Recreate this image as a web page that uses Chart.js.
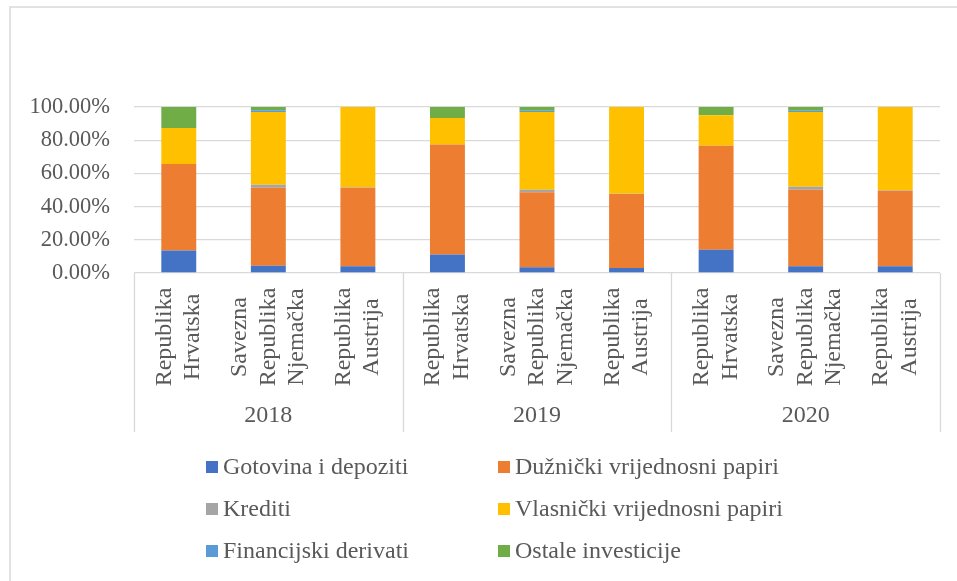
<!DOCTYPE html>
<html>
<head>
<meta charset="utf-8">
<script src="https://cdn.jsdelivr.net/npm/chart.js@4"></script>
<style>
  html, body { margin: 0; padding: 0; background: #fff; }
  #wrap { width: 957px; height: 581px; position: relative; }
</style>
</head>
<body>
<div id="wrap"><canvas id="chart" width="957" height="581"></canvas></div>
<script>
const categories = [
  ["Republika", "Hrvatska"], ["Savezna", "Republika", "Njemačka"], ["Republika", "Austrija"],
  ["Republika", "Hrvatska"], ["Savezna", "Republika", "Njemačka"], ["Republika", "Austrija"],
  ["Republika", "Hrvatska"], ["Savezna", "Republika", "Njemačka"], ["Republika", "Austrija"]
];
const years = ["2018", "2019", "2020"];

const gotovina = [13.6, 4.4, 4.0, 11.2, 3.4, 3.0, 14.0, 4.0, 4.0];
const duznicki = [52.0, 47.0, 47.4, 66.2, 45.2, 44.6, 62.6, 46.2, 45.6];
const krediti = [0.0, 1.8, 0.3, 0.0, 1.6, 0.2, 0.0, 1.8, 0.2];
const vlasnicki = [21.8, 43.8, 48.3, 16.0, 46.8, 52.2, 18.4, 45.0, 50.2];
const derivati = [0.0, 1.0, 0.0, 0.0, 0.8, 0.0, 0.0, 0.8, 0.0];
const ostale = [12.6, 2.0, 0.0, 6.6, 2.2, 0.0, 5.0, 2.2, 0.0];

const FONT = "'Liberation Serif', 'Times New Roman', serif";
const TEXT = "#595959";
const LINE = "#d9d9d9";

function ds(label, data, color) {
  return { label, data, backgroundColor: color, borderWidth: 0, barPercentage: 0.39, categoryPercentage: 1 };
}

const decor = {
  id: "decor",
  afterDraw(chart) {
    const ctx = chart.ctx;
    const x = chart.scales.x;
    const area = chart.chartArea;
    ctx.save();

    // outer frame (top + left visible)
    ctx.strokeStyle = LINE;
    ctx.lineWidth = 1.5;
    ctx.beginPath();
    ctx.moveTo(10, 581);
    ctx.lineTo(10, 7);
    ctx.lineTo(957, 7);
    ctx.stroke();

    // group separators
    const w = (area.right - area.left) / years.length;
    ctx.lineWidth = 1.3;
    ctx.beginPath();
    for (let k = 0; k <= years.length; k++) {
      const sx = Math.round(area.left + k * w) + 0.5;
      ctx.moveTo(sx, area.bottom);
      ctx.lineTo(sx, 432);
    }
    ctx.stroke();

    ctx.fillStyle = TEXT;
    ctx.font = "24px " + FONT;
    ctx.textAlign = "center";
    ctx.textBaseline = "middle";

    // rotated category labels
    categories.forEach((lines, i) => {
      const cx = x.getPixelForValue(i);
      ctx.save();
      ctx.translate(cx, 337);
      ctx.rotate(-Math.PI / 2);
      lines.forEach((t, j) => {
        ctx.fillText(t, 0, (j - (lines.length - 1) / 2) * 28.5);
      });
      ctx.restore();
    });

    // year labels
    years.forEach((y, i) => {
      ctx.fillText(y, area.left + (i + 0.5) * w, 416);
    });

    // legend, two columns
    ctx.textAlign = "left";
    const colX = [206, 498];
    const rowY = [467, 509, 551];
    chart.data.datasets.forEach((d, i) => {
      const mx = colX[i % 2];
      const my = rowY[Math.floor(i / 2)];
      ctx.fillStyle = d.backgroundColor;
      ctx.fillRect(mx, my - 6, 12, 12);
      ctx.fillStyle = TEXT;
      ctx.fillText(d.label, mx + 17, my + 1);
    });

    ctx.restore();
  }
};

new Chart(document.getElementById("chart"), {
  type: "bar",
  data: {
    labels: categories.map(l => l.join(" ")),
    datasets: [
      ds("Gotovina i depoziti", gotovina, "#4472C4"),
      ds("Dužnički vrijednosni papiri", duznicki, "#ED7D31"),
      ds("Krediti", krediti, "#A5A5A5"),
      ds("Vlasnički vrijednosni papiri", vlasnicki, "#FFC000"),
      ds("Financijski derivati", derivati, "#5B9BD5"),
      ds("Ostale investicije", ostale, "#70AD47")
    ]
  },
  options: {
    responsive: false,
    animation: false,
    layout: { padding: { left: 0, right: 17, top: 107, bottom: 308 } },
    plugins: { legend: { display: false }, tooltip: { enabled: false } },
    scales: {
      x: { stacked: true, display: false },
      y: {
        stacked: true,
        min: 0,
        max: 100,
        afterFit: s => { s.width = 134; },
        border: { display: false },
        grid: { color: LINE, lineWidth: 1.3, drawTicks: false },
        ticks: {
          stepSize: 20,
          padding: 24,
          color: TEXT,
          font: { family: FONT, size: 22.5 },
          callback: v => v.toFixed(2) + "%"
        }
      }
    }
  },
  plugins: [decor]
});
</script>
</body>
</html>
